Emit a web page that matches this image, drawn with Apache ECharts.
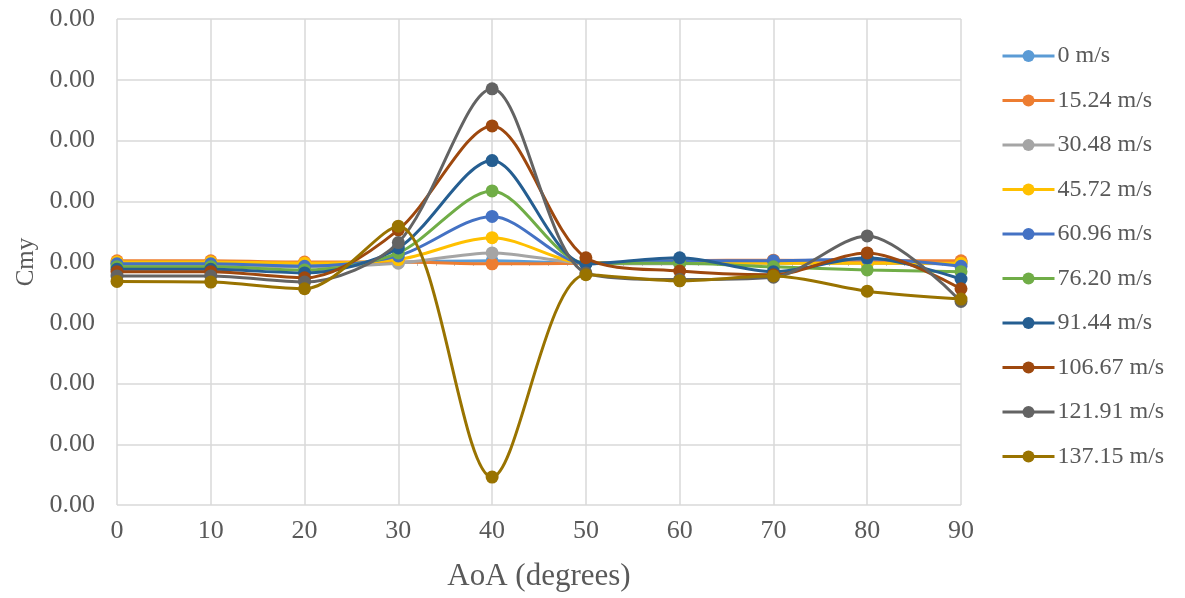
<!DOCTYPE html>
<html>
<head>
<meta charset="utf-8">
<script src="https://cdn.jsdelivr.net/npm/echarts@6/dist/echarts.min.js"></script>
<style>
  html, body { margin: 0; padding: 0; background: #ffffff; }
  #chart { width: 1185px; height: 598px; }
</style>
</head>
<body>
<div id="chart"></div>
<script>
// Angle of attack (degrees)
const aoa = [0, 10, 20, 30, 40, 50, 60, 70, 80, 90];

// Free-stream speed labels
const speeds = ['0 m/s', '15.24 m/s', '30.48 m/s', '45.72 m/s', '60.96 m/s',
                '76.20 m/s', '91.44 m/s', '106.67 m/s', '121.91 m/s', '137.15 m/s'];

// Yawing-moment coefficient Cmy per speed
const cmy_0      = [-0.00002, -0.00002, -0.00003, 0.00000, 0.00002, -0.00002, 0.00000, 0.00000, 0.00000, 0.00000];
const cmy_15_24  = [0.00002, 0.00002, 0.00000, 0.00000, -0.00003, -0.00002, 0.00002, 0.00003, 0.00002, 0.00002];
const cmy_30_48  = [-0.00005, -0.00005, -0.00008, -0.00002, 0.00015, -0.00002, -0.00003, -0.00002, -0.00002, -0.00003];
const cmy_45_72  = [0.00000, 0.00000, -0.00002, 0.00004, 0.00040, -0.00002, 0.00000, -0.00002, -0.00002, -0.00002];
const cmy_60_96  = [-0.00003, -0.00003, -0.00007, 0.00010, 0.00075, -0.00003, 0.00002, 0.00002, 0.00005, -0.00007];
const cmy_76_20  = [-0.00008, -0.00008, -0.00013, 0.00015, 0.00117, -0.00002, -0.00002, -0.00008, -0.00013, -0.00016];
const cmy_91_44  = [-0.00012, -0.00012, -0.00018, 0.00023, 0.00167, -0.00003, 0.00007, -0.00016, 0.00007, -0.00028];
const cmy_106_67 = [-0.00016, -0.00016, -0.00026, 0.00053, 0.00224, 0.00007, -0.00015, -0.00021, 0.00015, -0.00044];
const cmy_121_91 = [-0.00023, -0.00023, -0.00033, 0.00032, 0.00285, -0.00018, -0.00029, -0.00025, 0.00043, -0.00065];
const cmy_137_15 = [-0.00032, -0.00033, -0.00044, 0.00059, -0.00354, -0.00021, -0.00031, -0.00023, -0.00048, -0.00061];

const cmySeries = [cmy_0, cmy_15_24, cmy_30_48, cmy_45_72, cmy_60_96,
                   cmy_76_20, cmy_91_44, cmy_106_67, cmy_121_91, cmy_137_15];

const colors = ['#5B9BD5', '#ED7D31', '#A5A5A5', '#FFC000', '#4472C4',
                '#70AD47', '#255E91', '#9E480E', '#636363', '#997300'];

const textColor = '#595959';
const gridColor = '#d9d9d9';
const fontFamily = '"Liberation Serif", "Times New Roman", serif';

const chart = echarts.init(document.getElementById('chart'), null, { renderer: 'canvas' });

const series = cmySeries.map((vals, i) => ({
  name: speeds[i],
  type: 'line',
  xAxisIndex: 0,
  data: vals.map((v, k) => [aoa[k], v]),
  smooth: 0.3,
  symbol: 'circle',
  symbolSize: 13,
  showSymbol: true,
  lineStyle: { width: 3, color: colors[i] },
  itemStyle: { color: colors[i] },
  emphasis: { disabled: true },
  z: 2 + i
}));

chart.setOption({
  animation: false,
  backgroundColor: '#ffffff',
  grid: { left: 117, right: 224, top: 19, bottom: 93, containLabel: false, outerBoundsMode: 'none' },
  xAxis: [
    {
      type: 'value',
      min: 0, max: 90, interval: 10,
      name: 'AoA (degrees)',
      nameLocation: 'middle',
      nameGap: 56,
      nameTextStyle: { fontFamily, fontSize: 31, color: textColor },
      axisLine: { show: false, onZero: false },
      axisTick: { show: false },
      axisLabel: { fontFamily, fontSize: 26, color: textColor, margin: 13 },
      splitLine: { show: true, lineStyle: { color: gridColor, width: 1.5 } }
    },
    {
      // zero line with minor ticks
      type: 'value',
      min: 0, max: 90, interval: 10,
      position: 'top',
      axisLine: { show: true, onZero: true, lineStyle: { color: '#bfbfbf', width: 1.5 } },
      axisTick: { show: true, inside: true, length: 5, lineStyle: { color: '#bfbfbf' } },
      minorTick: { show: true, splitNumber: 5, length: 4, lineStyle: { color: '#bfbfbf' } },
      axisLabel: { show: false },
      splitLine: { show: false }
    }
  ],
  yAxis: {
    type: 'value',
    min: -0.004, max: 0.004, interval: 0.001,
    name: 'Cmy',
    nameLocation: 'middle',
    nameGap: 77,
    nameRotate: 90,
    nameTextStyle: { fontFamily, fontSize: 25, color: textColor },
    axisLine: { show: false },
    axisTick: { show: false },
    axisLabel: {
      fontFamily, fontSize: 26, color: textColor, margin: 22,
      formatter: v => Math.abs(v).toFixed(2)
    },
    splitLine: { show: true, lineStyle: { color: gridColor, width: 1.5 } }
  },
  legend: {
    orient: 'vertical',
    left: 1001,
    top: 44,
    padding: 0,
    itemWidth: 52,
    itemHeight: 15,
    itemGap: 20.5,
    lineStyle: { width: 3 },
    textStyle: { fontFamily, fontSize: 24, color: textColor, padding: [0, 0, 0, -2] },
    data: speeds
  },
  series
});
</script>
</body>
</html>
